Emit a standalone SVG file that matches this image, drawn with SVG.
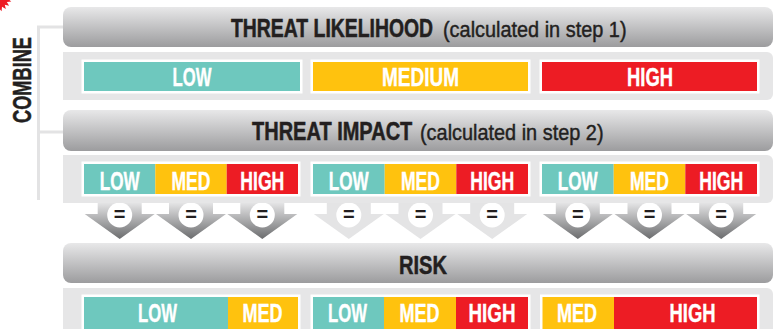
<svg xmlns="http://www.w3.org/2000/svg" width="775" height="329" viewBox="0 0 775 329">
  <defs>
    <linearGradient id="barGrad" x1="0" y1="0" x2="0" y2="1">
      <stop offset="0" stop-color="#e8e8e9"/>
      <stop offset="1" stop-color="#9c9c9e"/>
    </linearGradient>
    <linearGradient id="arrowGrad" x1="0" y1="0" x2="0" y2="1">
      <stop offset="0" stop-color="#e4e4e5"/>
      <stop offset="1" stop-color="#6b6c6e"/>
    </linearGradient>
    <style>
      .bar { fill: url(#barGrad); }
      .panel { fill: #e6e6e7; }
      .frame { fill: #ffffff; }
      .teal { fill: #6ec8be; }
      .gold { fill: #ffc20e; }
      .red { fill: #ed1c24; }
      .lbl { font-family: "Liberation Sans", Arial, sans-serif; font-weight: bold; font-size: 26px; fill: #ffffff; stroke: #ffffff; stroke-width: 0.4; text-anchor: middle; }
      .title { font-family: "Liberation Sans", Arial, sans-serif; font-weight: bold; font-size: 26px; fill: #231f20; stroke: #231f20; stroke-width: 0.5; }
      .head { font-size: 19.4px; stroke-width: 0.4; }
      .sub { font-family: "Liberation Sans", Arial, sans-serif; font-weight: normal; font-size: 19.9px; fill: #231f20; stroke: #231f20; stroke-width: 0.4; }
      .arr-dark { fill: url(#arrowGrad); }
      .arr-light { fill: #e4e4e5; }
      .disc { fill: #ffffff; }
      .eq { font-family: "Liberation Sans", Arial, sans-serif; font-weight: bold; font-size: 20px; fill: #231f20; text-anchor: middle; }
      .bracket { fill: none; stroke: #e3e3e4; stroke-width: 3; }
    </style>
  </defs>

  <!-- red seal peeking in at the corner -->
  <polygon fill="#ed1c24" points="-3,-3 12,-3 7.9,-1.3 11.3,1.6 6.8,2 9.1,5.8 4.8,4.8 5.8,9.1 2,6.8 1.6,11.3 -1.3,7.9 -3,12"/>

  <!-- COMBINE label -->
  <text class="title" transform="translate(31,80) rotate(-90)" text-anchor="middle" textLength="86" lengthAdjust="spacingAndGlyphs">COMBINE</text>

  <g id="connectors">
    <!-- bracket joining the two inputs -->
    <path class="bracket" d="M63,27 H38.5 V200 M38.5,132 H63"/>

    <!-- equals arrows under the impact row -->
    <g transform="translate(119.7,203)">
      <path class="arr-dark" d="M-22,0 H22 V11 H35 L0,36 L-35,11 H-22 Z"/>
      <circle class="disc" cx="0" cy="12" r="12.5"/>
      <text class="eq" x="0" y="17.5">=</text>
    </g>
    <g transform="translate(191,203)">
      <path class="arr-dark" d="M-22,0 H22 V11 H35 L0,36 L-35,11 H-22 Z"/>
      <circle class="disc" cx="0" cy="12" r="12.5"/>
      <text class="eq" x="0" y="17.5">=</text>
    </g>
    <g transform="translate(262.3,203)">
      <path class="arr-dark" d="M-22,0 H22 V11 H35 L0,36 L-35,11 H-22 Z"/>
      <circle class="disc" cx="0" cy="12" r="12.5"/>
      <text class="eq" x="0" y="17.5">=</text>
    </g>
    <g transform="translate(348.8,203)">
      <path class="arr-light" d="M-22,0 H22 V11 H35 L0,36 L-35,11 H-22 Z"/>
      <circle class="disc" cx="0" cy="12" r="12.5"/>
      <text class="eq" x="0" y="17.5">=</text>
    </g>
    <g transform="translate(420.5,203)">
      <path class="arr-light" d="M-22,0 H22 V11 H35 L0,36 L-35,11 H-22 Z"/>
      <circle class="disc" cx="0" cy="12" r="12.5"/>
      <text class="eq" x="0" y="17.5">=</text>
    </g>
    <g transform="translate(492.2,203)">
      <path class="arr-light" d="M-22,0 H22 V11 H35 L0,36 L-35,11 H-22 Z"/>
      <circle class="disc" cx="0" cy="12" r="12.5"/>
      <text class="eq" x="0" y="17.5">=</text>
    </g>
    <g transform="translate(577.8,203)">
      <path class="arr-dark" d="M-22,0 H22 V11 H35 L0,36 L-35,11 H-22 Z"/>
      <circle class="disc" cx="0" cy="12" r="12.5"/>
      <text class="eq" x="0" y="17.5">=</text>
    </g>
    <g transform="translate(649.5,203)">
      <path class="arr-dark" d="M-22,0 H22 V11 H35 L0,36 L-35,11 H-22 Z"/>
      <circle class="disc" cx="0" cy="12" r="12.5"/>
      <text class="eq" x="0" y="17.5">=</text>
    </g>
    <g transform="translate(721.2,203)">
      <path class="arr-dark" d="M-22,0 H22 V11 H35 L0,36 L-35,11 H-22 Z"/>
      <circle class="disc" cx="0" cy="12" r="12.5"/>
      <text class="eq" x="0" y="17.5">=</text>
    </g>
  </g>

  <!-- likelihood header -->
  <g id="likelihood-header">
    <rect class="bar" x="63" y="7" width="710" height="40" rx="8"/>
    <text class="title head" transform="translate(231,37) scale(1,1.34)">THREAT LIKELIHOOD</text>
    <text class="sub" transform="translate(443,37) scale(1,1.1)">(calculated in step 1)</text>
  </g>

  <!-- likelihood levels -->
  <g id="likelihood-levels">
    <path class="panel" d="M63,52 H767 A6,6 0 0 1 773,58 V94 A6,6 0 0 1 767,100 H63 Z"/>
    <rect class="frame" x="81.5" y="59.5" width="221" height="34"/>
    <rect class="teal" x="84" y="62" width="216" height="29"/>
    <text class="lbl" x="192" y="86" textLength="39" lengthAdjust="spacingAndGlyphs">LOW</text>
    <rect class="frame" x="310.5" y="59.5" width="220" height="34"/>
    <rect class="gold" x="313" y="62" width="215" height="29"/>
    <text class="lbl" x="420.5" y="86" textLength="77" lengthAdjust="spacingAndGlyphs">MEDIUM</text>
    <rect class="frame" x="539.5" y="59.5" width="220" height="34"/>
    <rect class="red" x="542" y="62" width="215" height="29"/>
    <text class="lbl" x="650" y="86" textLength="46" lengthAdjust="spacingAndGlyphs">HIGH</text>
  </g>

  <!-- impact header -->
  <g id="impact-header">
    <rect class="bar" x="63" y="110" width="710" height="41" rx="8"/>
    <text class="title head" transform="translate(252,140) scale(1,1.3)" style="font-size:20px">THREAT IMPACT</text>
    <text class="sub" transform="translate(420,140) scale(1,1.1)">(calculated in step 2)</text>
  </g>

  <!-- impact levels, one set per likelihood -->
  <g id="impact-levels">
    <path class="panel" d="M63,155 H767 A6,6 0 0 1 773,161 V197 A6,6 0 0 1 767,203 H63 Z"/>

    <rect class="frame" x="81.5" y="161.5" width="219" height="35"/>
    <rect class="teal" x="84" y="164" width="71.3" height="30"/>
    <rect class="gold" x="155.3" y="164" width="71.4" height="30"/>
    <rect class="red" x="226.7" y="164" width="71.3" height="30"/>
    <text class="lbl" x="119.7" y="190" textLength="40" lengthAdjust="spacingAndGlyphs">LOW</text>
    <text class="lbl" x="191" y="190" textLength="39" lengthAdjust="spacingAndGlyphs">MED</text>
    <text class="lbl" x="262.3" y="190" textLength="44" lengthAdjust="spacingAndGlyphs">HIGH</text>

    <rect class="frame" x="310.5" y="161.5" width="220" height="35"/>
    <rect class="teal" x="313" y="164" width="71.7" height="30"/>
    <rect class="gold" x="384.7" y="164" width="71.6" height="30"/>
    <rect class="red" x="456.3" y="164" width="71.7" height="30"/>
    <text class="lbl" x="348.8" y="190" textLength="40" lengthAdjust="spacingAndGlyphs">LOW</text>
    <text class="lbl" x="420.5" y="190" textLength="39" lengthAdjust="spacingAndGlyphs">MED</text>
    <text class="lbl" x="492.2" y="190" textLength="44" lengthAdjust="spacingAndGlyphs">HIGH</text>

    <rect class="frame" x="539.5" y="161.5" width="220" height="35"/>
    <rect class="teal" x="542" y="164" width="71.7" height="30"/>
    <rect class="gold" x="613.7" y="164" width="71.6" height="30"/>
    <rect class="red" x="685.3" y="164" width="71.7" height="30"/>
    <text class="lbl" x="577.8" y="190" textLength="40" lengthAdjust="spacingAndGlyphs">LOW</text>
    <text class="lbl" x="649.5" y="190" textLength="39" lengthAdjust="spacingAndGlyphs">MED</text>
    <text class="lbl" x="721.2" y="190" textLength="44" lengthAdjust="spacingAndGlyphs">HIGH</text>
  </g>

  <!-- risk header -->
  <g id="risk-header">
    <rect class="bar" x="63" y="243" width="710" height="40" rx="8"/>
    <text class="title" x="399" y="274" textLength="48" lengthAdjust="spacingAndGlyphs">RISK</text>
  </g>

  <!-- resulting risk levels -->
  <g id="risk-levels">
    <path class="panel" d="M63,288 H767 A6,6 0 0 1 773,294 V340 H63 Z"/>

    <rect class="frame" x="81.5" y="294.5" width="219" height="40"/>
    <rect class="teal" x="84" y="297" width="144" height="40"/>
    <rect class="gold" x="228" y="297" width="70" height="40"/>
    <text class="lbl" x="157.5" y="322" textLength="39" lengthAdjust="spacingAndGlyphs">LOW</text>
    <text class="lbl" x="262.5" y="322" textLength="40" lengthAdjust="spacingAndGlyphs">MED</text>

    <rect class="frame" x="310.5" y="294.5" width="220" height="40"/>
    <rect class="teal" x="313" y="297" width="71" height="40"/>
    <rect class="gold" x="384" y="297" width="72" height="40"/>
    <rect class="red" x="456" y="297" width="72" height="40"/>
    <text class="lbl" x="347.5" y="322" textLength="39" lengthAdjust="spacingAndGlyphs">LOW</text>
    <text class="lbl" x="419.5" y="322" textLength="40" lengthAdjust="spacingAndGlyphs">MED</text>
    <text class="lbl" x="492" y="322" textLength="47" lengthAdjust="spacingAndGlyphs">HIGH</text>

    <rect class="frame" x="540" y="294.5" width="219.5" height="40"/>
    <rect class="gold" x="542.5" y="297" width="71.5" height="40"/>
    <rect class="red" x="614" y="297" width="143" height="40"/>
    <text class="lbl" x="577" y="322" textLength="40" lengthAdjust="spacingAndGlyphs">MED</text>
    <text class="lbl" x="692.5" y="322" textLength="46" lengthAdjust="spacingAndGlyphs">HIGH</text>
  </g>
</svg>
